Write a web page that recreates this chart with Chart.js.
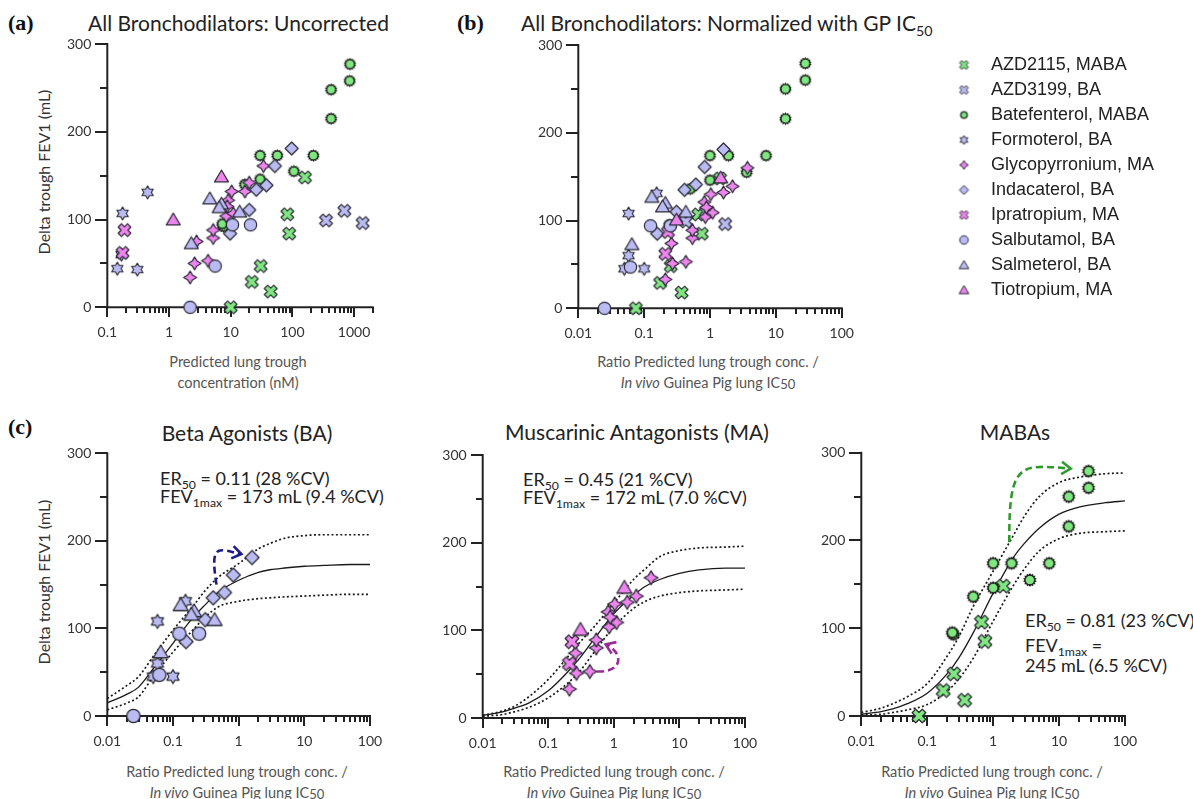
<!DOCTYPE html>
<html>
<head>
<meta charset="utf-8">
<script src="https://cdn.jsdelivr.net/npm/chart.js@4.4.0/dist/chart.umd.min.js"></script>
<style>
html,body{margin:0;padding:0;background:#fff;overflow:hidden;width:1193px;height:799px;}
#stage{position:relative;width:1193px;height:799px;}
canvas{position:absolute;}
.t{position:absolute;white-space:nowrap;line-height:1.2;font-family:Lato,"Open Sans",sans-serif;color:#222;}
.lab{font-family:"Liberation Serif",serif;font-weight:bold;font-size:22px;color:#111;}
.ttl{font-size:21px;}
.ctr{transform:translateX(-50%);}
.er{font-size:18px;}
.xt{font-size:14.5px;color:#555;transform:translateX(-50%);text-align:center;}
.yt{font-size:16px;color:#333;transform:translate(-50%,-50%) rotate(-90deg);}
.sub{font-size:0.68em;position:relative;top:0.3em;}
.subx{font-size:0.9em;position:relative;top:0.12em;}
</style>
</head>
<body>
<div id="stage">
  <div class="t lab" style="left:8px;top:10.4px;">(a)</div>
  <div class="t ttl" style="left:88px;top:10.3px;">All Bronchodilators: Uncorrected</div>
  <div class="t lab" style="left:457px;top:10.4px;">(b)</div>
  <div class="t ttl" style="left:521px;top:10.3px;">All Bronchodilators: Normalized with GP IC<span class="sub">50</span></div>

  <div class="t yt" style="left:44px;top:172px;">Delta trough FEV1 (mL)</div>
  <div class="t xt" style="left:238px;top:352.7px;">Predicted lung trough</div>
  <div class="t xt" style="left:238px;top:373.7px;">concentration (nM)</div>
  <div class="t xt" style="left:708px;top:352.7px;">Ratio Predicted lung trough conc. /</div>
  <div class="t xt" style="left:708px;top:373.7px;"><i>In vivo</i> Guinea Pig lung IC<span class="subx">50</span></div>

  <div class="t lab" style="left:8px;top:414.4px;">(c)</div>
  <div class="t ttl ctr" style="left:247px;top:420.3px;">Beta Agonists (BA)</div>
  <div class="t ttl ctr" style="left:637px;top:419.3px;">Muscarinic Antagonists (MA)</div>
  <div class="t ttl ctr" style="left:1015px;top:419.3px;">MABAs</div>

  <div class="t er" style="left:160px;top:468.2px;">ER<span class="sub">50</span> = 0.11 (28 %CV)</div>
  <div class="t er" style="left:160px;top:486.2px;">FEV<span class="sub">1max</span> = 173 mL (9.4 %CV)</div>
  <div class="t er" style="left:523px;top:469.2px;">ER<span class="sub">50</span> = 0.45 (21 %CV)</div>
  <div class="t er" style="left:523px;top:487.2px;">FEV<span class="sub">1max</span> = 172 mL (7.0 %CV)</div>
  <div class="t er" style="left:1025px;top:610.2px;">ER<span class="sub">50</span> = 0.81 (23 %CV)</div>
  <div class="t er" style="left:1025px;top:635.2px;">FEV<span class="sub">1max</span> =</div>
  <div class="t er" style="left:1025px;top:655.2px;">245 mL (6.5 %CV)</div>

  <div class="t yt" style="left:44px;top:582px;">Delta trough FEV1 (mL)</div>
  <div class="t xt" style="left:237px;top:762.7px;">Ratio Predicted lung trough conc. /</div>
  <div class="t xt" style="left:237px;top:783.7px;"><i>In vivo</i> Guinea Pig lung IC<span class="subx">50</span></div>
  <div class="t xt" style="left:614px;top:762.7px;">Ratio Predicted lung trough conc. /</div>
  <div class="t xt" style="left:614px;top:783.7px;"><i>In vivo</i> Guinea Pig lung IC<span class="subx">50</span></div>
  <div class="t xt" style="left:992px;top:762.7px;">Ratio Predicted lung trough conc. /</div>
  <div class="t xt" style="left:992px;top:783.7px;"><i>In vivo</i> Guinea Pig lung IC<span class="subx">50</span></div>
</div>
<script>
// ================= DATA =================
const drugNames = ['AZD2115, MABA','AZD3199, BA','Batefenterol, MABA','Formoterol, BA','Glycopyrronium, MA',
                   'Indacaterol, BA','Ipratropium, MA','Salbutamol, BA','Salmeterol, BA','Tiotropium, MA'];

// Panel (a): predicted lung trough concentration (nM) , delta trough FEV1 (mL)
const aAZD2115 = [[10,0],[22,29],[30.6,47],[44.6,18],[83,106],[89,84],[160,148]];
const aAZD3199 = [[352,99],[697,110],[1380,96]];
const aBatefenterol = [[860,277],[850,258],[425,248],[425,215],[30,173],[57,173],[219,173],[106,155],[30,146],[17,140],[7.6,92],[7.3,95]];
const aFormoterol = [[0.145,44],[0.177,107],[0.306,43],[0.45,131],[0.17,60]];
const aGlycopyrronium = [[2.2,34],[2.6,50],[4.3,53],[2.8,75],[5.2,79],[5.2,88],[8.5,104],[9.1,122],[11,107],[10.4,132],[17,132],[20,142],[34,161],[8.8,115]];
const aIndacaterol = [[97.5,181],[52,161],[38,139],[26,134],[20,111],[9.8,84]];
const aIpratropium = [[0.19,88],[0.177,62]];
const aSalbutamol = [[2.2,0],[5.6,47],[10.7,94],[21,94]];
const aSalmeterol = [[2.3,73],[4.6,124],[7.1,118],[6.5,114],[14,109]];
const aTiotropium = [[7.1,149],[1.17,100]];

// Panels (b),(c): ratio predicted lung trough conc. / in vivo GP lung IC50 , delta trough FEV1 (mL)
const nAZD2115 = [[0.075,0],[0.175,29],[0.253,48],[0.37,18],[0.665,107],[0.75,85],[1.42,148]];
const nAZD3199 = [[0.43,99],[0.87,110],[1.7,96]];
const nBatefenterol = [[28,279],[28,260],[14,250],[14,216],[1.9,174],[1.0,174],[7.1,174],[3.6,155],[1.0,146],[0.5,136],[0.25,93],[0.24,95]];
const nFormoterol = [[0.05,45],[0.058,108],[0.10,45],[0.155,131],[0.058,60]];
const nGlycopyrronium = [[0.21,33],[0.27,51],[0.43,53],[0.26,74],[0.54,80],[0.54,89],[0.85,104],[0.82,121],[1.1,109],[1.03,130],[1.6,132],[2.2,139],[3.7,160],[0.88,115]];
const nIndacaterol = [[1.6,181],[0.83,161],[0.61,141],[0.41,135],[0.31,110],[0.158,85]];
const nIpratropium = [[0.21,62],[0.23,87]];
const nSalbutamol = [[0.025,0],[0.062,47],[0.125,94],[0.25,94]];
const nSalmeterol = [[0.065,73],[0.131,127],[0.21,120],[0.19,116],[0.43,110]];
const nTiotropium = [[0.31,101],[1.45,149]];

// Fitted Emax curves at these ratios
const curveRatio = [0.01,0.02,0.03,0.05,0.1,0.2,0.3,0.5,1,2,3,5,10,20,50,100];
const baFit   = [15,25,33,54,83,112,126,142,155,164,167,169,171,172,173,173];
const baUpper = [20,35,45,68,98,125,142,159,174,191,197,203,206,207,207,207];
const baLower = [7,15,22,45,73,98,112,125,131,134,135,136,137,138,139,139];
const maFit   = [3,7,11,17,31,53,68,90,119,140,150,158,165,169,171,171];
const maUpper = [3,8,13,24,44,70,86,104,131,158,170,184,191,194,195,196];
const maLower = [2,4,7,12,23,40,53,75,104,125,133,139,143,145,146,147];
const mabaFit   = [2,5,8,14,26,48,66,95,140,180,197,214,230,238,243,245];
const mabaUpper = [4,9,14,22,37,68,90,125,165,205,228,250,266,272,276,277];
const mabaLower = [1,2,4,7,13,28,42,66,108,148,168,188,202,208,210,211];

// Annotation arrows (start, control1, control2, end) in data units
const baArrow   = [[0.46,150],[0.36,200],[0.5,190],[1.1,185]];
const maArrow   = [[0.55,53],[1.5,52],[1.35,76],[0.75,84]];
const mabaArrow = [[1.76,198],[1.72,292],[2.6,286],[15,282]];

// Tick labels
const xTicksConc = [0.1,1,10,100,1000];
const xLabelsConc = ['0.1','1','10','100','1000'];
const xTicksRatio = [0.01,0.1,1,10,100];
const xLabelsRatio = ['0.01','0.1','1','10','100'];
const yTicks = [0,100,200,300];
const yLabels = ['0','100','200','300'];
const yMinorTicks = [50,150,250];

// ================= STYLE =================
const GREEN = '#80E680', LAV = '#BBBBF3', PINK = '#EE84EE', OUT = '#2a2a36', AX = '#222';
const drugStyle = [
  {shape:'x', color:GREEN}, {shape:'x', color:LAV}, {shape:'burst', color:GREEN},
  {shape:'hexagram', color:LAV}, {shape:'star4', color:PINK}, {shape:'diamond', color:LAV},
  {shape:'x', color:PINK}, {shape:'circle', color:LAV}, {shape:'triangle', color:LAV},
  {shape:'triangle', color:PINK}
];

function makeMarker(shape, fill, d) {
  const pad = 3, size = Math.ceil(d + 2*pad);
  const c = document.createElement('canvas'); c.width = c.height = size;
  const g = c.getContext('2d');
  const cx = size/2, cy = size/2, r = d/2;
  g.lineJoin = 'round';
  g.strokeStyle = OUT; g.lineWidth = Math.max(1, d/11);
  g.beginPath();
  if (shape === 'burst') {
    const n = 14;
    for (let k = 0; k < 2*n; k++) {
      const ang = -Math.PI/2 + k*Math.PI/n, rr = (k % 2 === 0) ? r : r*0.76;
      g.lineTo(cx + rr*Math.cos(ang), cy + rr*Math.sin(ang));
    }
    g.closePath(); g.fillStyle = '#141414'; g.fill();
    g.beginPath(); g.arc(cx, cy, r*0.66, 0, 2*Math.PI); g.fillStyle = fill; g.fill();
    g.lineWidth = 0.7; g.strokeStyle = '#141414'; g.stroke();
    return c;
  }
  if (shape === 'circle') {
    g.arc(cx, cy, r*0.95, 0, 2*Math.PI);
  } else if (shape === 'triangle') {
    g.moveTo(cx, cy - r); g.lineTo(cx + r*1.07, cy + r*0.82); g.lineTo(cx - r*1.07, cy + r*0.82); g.closePath();
  } else if (shape === 'diamond') {
    g.moveTo(cx, cy - r); g.lineTo(cx + r, cy); g.lineTo(cx, cy + r); g.lineTo(cx - r, cy); g.closePath();
  } else if (shape === 'star4') {
    for (let k = 0; k < 8; k++) {
      const ang = -Math.PI/2 + k*Math.PI/4, rr = (k % 2) ? r*0.52 : r;
      g.lineTo(cx + rr*Math.cos(ang), cy + rr*Math.sin(ang));
    }
    g.closePath();
  } else if (shape === 'hexagram') {
    for (let k = 0; k < 12; k++) {
      const ang = -Math.PI/2 + k*Math.PI/6, rr = (k % 2) ? r*0.58 : r;
      g.lineTo(cx + rr*Math.cos(ang), cy + rr*Math.sin(ang));
    }
    g.closePath();
  } else if (shape === 'x') {
    const L = r*1.02, w = r*0.36;
    const p = [[w,-L],[w,-w],[L,-w],[L,w],[w,w],[w,L],[-w,L],[-w,w],[-L,w],[-L,-w],[-w,-w],[-w,-L]];
    p.forEach(([px,py]) => g.lineTo(cx + (px - py)/Math.SQRT2, cy + (px + py)/Math.SQRT2));
    g.closePath();
  }
  g.fillStyle = fill; g.fill(); g.stroke();
  return c;
}

const markersAB = drugStyle.map(s => makeMarker(s.shape, s.color, 13));
const markersC = drugStyle.map(s => makeMarker(s.shape, s.color, 14));
const markersLegend = drugStyle.map(s => makeMarker(s.shape, s.color, 9));

// tick-mark glyphs (thin dark bars) used as point styles for axis tick marks
function makeBar(len, thick, vertical) {
  const c = document.createElement('canvas');
  c.width = vertical ? thick : len; c.height = vertical ? len : thick;
  const g = c.getContext('2d');
  g.fillStyle = AX; g.fillRect(0, 0, c.width, c.height);
  return c;
}
const barXMajor = makeBar(10, 2, true), barXMinor = makeBar(6, 2, true);
const barYMajor = makeBar(12, 2, false), barYMinor = makeBar(7, 2, false);

// minor log ticks (2..9 x 10^n) between min and max
function logMinor(min, max) {
  const out = [];
  for (let e = Math.floor(Math.log10(min)); e < Math.ceil(Math.log10(max)); e++) {
    for (let k = 2; k <= 9; k++) {
      const v = k * Math.pow(10, e);
      if (v > min * 1.0001 && v <= max * 1.0001) out.push(v);
    }
  }
  return out;
}

// ================= PLUGIN: arrow annotation =================
function arrowPlugin(arrowPts, arrowColor) {
  return {
    id: 'arrowAnno',
    afterDatasetsDraw(chart) {
      const ctx = chart.ctx, xs = chart.scales.x, ys = chart.scales.y;
      const p = arrowPts.map(([x,y]) => [xs.getPixelForValue(x), ys.getPixelForValue(y)]);
      ctx.save();
      ctx.strokeStyle = arrowColor; ctx.lineWidth = 2.6; ctx.lineCap = 'butt';
      ctx.setLineDash([7,4]);
      ctx.beginPath();
      ctx.moveTo(p[0][0], p[0][1]);
      ctx.bezierCurveTo(p[1][0], p[1][1], p[2][0], p[2][1], p[3][0], p[3][1]);
      ctx.stroke();
      ctx.setLineDash([]);
      const ang = Math.atan2(p[3][1] - p[2][1], p[3][0] - p[2][0]);
      ctx.beginPath();
      ctx.moveTo(p[3][0] - 11*Math.cos(ang - 0.6), p[3][1] - 11*Math.sin(ang - 0.6));
      ctx.lineTo(p[3][0], p[3][1]);
      ctx.lineTo(p[3][0] - 11*Math.cos(ang + 0.6), p[3][1] - 11*Math.sin(ang + 0.6));
      ctx.stroke();
      ctx.restore();
    }
  };
}

// ================= CHART FACTORY =================
const toXY = arr => arr.map(([x,y]) => ({x, y}));

function makePanel(cfg) {
  const cv = document.createElement('canvas');
  cv.width = cfg.rect.width; cv.height = cfg.rect.height;
  cv.style.left = cfg.rect.left + 'px'; cv.style.top = cfg.rect.top + 'px';
  document.getElementById('stage').appendChild(cv);
  const r = cfg.rect, a = cfg.area;
  const TX = 10, TY = 12;   // major tick lengths (px) on x and y axes
  const pxPerY = (a.b - a.t) / 300;
  const pxPerDecade = (a.r - a.l) / Math.log10(cfg.xMax / cfg.xMin);
  const yMinExt = -TX / pxPerY;
  const xMinExt = cfg.xMin * Math.pow(10, -TY / pxPerDecade);
  const ext = {l: a.l - TY, b: a.b + TX};
  const datasets = [];

  // axis lines (plot area extended so ticks sit inside it)
  const lineDs = (data, w) => ({data, showLine: true, pointRadius: 0, borderColor: AX,
                                borderWidth: w, clip: false, order: 200, borderCapStyle: 'square'});
  datasets.push(lineDs([{x: cfg.xMin, y: 0}, {x: cfg.xMax, y: 0}], 2));
  datasets.push(lineDs([{x: cfg.xMin, y: 0}, {x: cfg.xMin, y: 300}], 2));
  // tick marks as bar-shaped point markers
  const tickDs = (data, glyph) => ({data, showLine: false, pointStyle: glyph, pointRadius: 3,
                                    clip: false, order: 150});
  const xTickPts = (vals, px) => vals.map(v => ({x: v, y: -(px / 2) / pxPerY}));
  const yTickPts = (vals, px) => vals.map(v => ({x: cfg.xMin * Math.pow(10, -(px / 2) / pxPerDecade), y: v}));
  datasets.push(tickDs(xTickPts(cfg.xTicks, 10), barXMajor));
  datasets.push(tickDs(xTickPts(logMinor(cfg.xMin, cfg.xMax), 6), barXMinor));
  datasets.push(tickDs(yTickPts(yTicks, 12), barYMajor));
  datasets.push(tickDs(yTickPts(yMinorTicks, 7), barYMinor));

  (cfg.curves || []).forEach(c => datasets.push({
    data: curveRatio.map((x, i) => ({x, y: c.vals[i]})),
    showLine: true, pointRadius: 0, borderColor: '#1a1a1a', borderWidth: c.dash ? 1.7 : 1.3,
    borderDash: c.dash ? [2, 2.4] : [], cubicInterpolationMode: 'monotone', fill: false, order: 100
  }));
  cfg.series.forEach(s => datasets.push({
    label: drugNames[s.idx], data: toXY(s.data), pointStyle: cfg.markers[s.idx],
    pointRadius: 6, clip: false, order: 10 - s.idx, showLine: false
  }));
  const font = {family: 'Lato', size: 14};
  return new Chart(cv, {
    type: 'scatter',
    data: {datasets},
    plugins: cfg.arrow ? [arrowPlugin(cfg.arrow, cfg.arrowColor)] : [],
    options: {
      responsive: false, animation: false, events: [],
      layout: {padding: {left: 0, top: a.t - r.top, right: r.left + r.width - a.r, bottom: 0}},
      plugins: {legend: {display: false}, tooltip: {enabled: false}},
      scales: {
        x: {
          type: 'logarithmic', position: 'bottom', min: xMinExt, max: cfg.xMax,
          afterBuildTicks: s => { s.ticks = cfg.xTicks.map(v => ({value: v})); },
          afterFit: s => { s.height = r.top + r.height - ext.b; },
          ticks: {autoSkip: false, maxRotation: 0, minRotation: 0, padding: 7, font, color: '#333',
                  callback: (v, i) => cfg.xLabels[i]},
          grid: {display: false, drawTicks: false},
          border: {display: false}
        },
        y: {
          type: 'linear', position: 'left', min: yMinExt, max: 300,
          afterBuildTicks: s => { s.ticks = yTicks.map(v => ({value: v})); },
          afterFit: s => { s.width = ext.l - r.left; },
          ticks: {padding: 4, font, color: '#333', callback: (v, i) => yLabels[i]},
          grid: {display: false, drawTicks: false},
          border: {display: false}
        }
      }
    }
  });
}

const allA = [aAZD2115,aAZD3199,aBatefenterol,aFormoterol,aGlycopyrronium,aIndacaterol,aIpratropium,aSalbutamol,aSalmeterol,aTiotropium];
const allN = [nAZD2115,nAZD3199,nBatefenterol,nFormoterol,nGlycopyrronium,nIndacaterol,nIpratropium,nSalbutamol,nSalmeterol,nTiotropium];

// (a)
makePanel({
  rect: {left: 55, top: 30, width: 345, height: 320}, area: {l: 107.3, t: 44, r: 372.6, b: 307.3},
  xMin: 0.1, xMax: 2000, xTicks: xTicksConc, xLabels: xLabelsConc, markers: markersAB,
  series: allA.map((d, i) => ({idx: i, data: d}))
});
// (b)
makePanel({
  rect: {left: 525, top: 30, width: 345, height: 320}, area: {l: 578.3, t: 45, r: 841.7, b: 308.3},
  xMin: 0.01, xMax: 100, xTicks: xTicksRatio, xLabels: xLabelsRatio, markers: markersAB,
  series: allN.map((d, i) => ({idx: i, data: d}))
});
// (c) Beta agonists
makePanel({
  rect: {left: 55, top: 440, width: 345, height: 320}, area: {l: 107.3, t: 453.3, r: 370, b: 716},
  xMin: 0.01, xMax: 100, xTicks: xTicksRatio, xLabels: xLabelsRatio, markers: markersC,
  series: [{idx: 3, data: nFormoterol}, {idx: 5, data: nIndacaterol}, {idx: 7, data: nSalbutamol}, {idx: 8, data: nSalmeterol}],
  curves: [{vals: baFit}, {vals: baUpper, dash: true}, {vals: baLower, dash: true}],
  arrow: baArrow, arrowColor: '#1c1c8a'
});
// (c) Muscarinic antagonists
makePanel({
  rect: {left: 430, top: 440, width: 345, height: 320}, area: {l: 482.7, t: 455, r: 745, b: 718},
  xMin: 0.01, xMax: 100, xTicks: xTicksRatio, xLabels: xLabelsRatio, markers: markersC,
  series: [{idx: 4, data: nGlycopyrronium}, {idx: 6, data: nIpratropium}, {idx: 9, data: nTiotropium}],
  curves: [{vals: maFit}, {vals: maUpper, dash: true}, {vals: maLower, dash: true}],
  arrow: maArrow, arrowColor: '#9a2c9a'
});
// (c) MABAs
makePanel({
  rect: {left: 810, top: 440, width: 350, height: 320}, area: {l: 861.3, t: 452.7, r: 1125, b: 716},
  xMin: 0.01, xMax: 100, xTicks: xTicksRatio, xLabels: xLabelsRatio, markers: markersC,
  series: [{idx: 0, data: nAZD2115}, {idx: 2, data: nBatefenterol}],
  curves: [{vals: mabaFit}, {vals: mabaUpper, dash: true}, {vals: mabaLower, dash: true}],
  arrow: mabaArrow, arrowColor: '#2e9a2e'
});

// Legend
(function () {
  const cv = document.createElement('canvas');
  cv.width = 254; cv.height = 300;
  cv.style.left = '939px'; cv.style.top = '49px';
  document.getElementById('stage').appendChild(cv);
  new Chart(cv, {
    type: 'scatter',
    data: {datasets: drugNames.map((n, i) => ({label: n, data: [], pointStyle: markersLegend[i]}))},
    options: {
      responsive: false, animation: false, events: [],
      layout: {padding: 0},
      scales: {x: {display: false}, y: {display: false}},
      plugins: {
        tooltip: {enabled: false},
        legend: {
          display: true, position: 'top', align: 'start', maxHeight: 290,
          labels: {
            usePointStyle: true, pointStyleWidth: 36, padding: 7,
            font: {family: 'Liberation Sans', size: 18}, color: '#222',
            generateLabels: chart => chart.data.datasets.map((d, i) => ({
              text: d.label, pointStyle: d.pointStyle, fillStyle: '#000', strokeStyle: '#000',
              lineWidth: 0, hidden: false, datasetIndex: i, fontColor: '#222'
            }))
          }
        }
      }
    }
  });
})();
</script>
</body>
</html>
